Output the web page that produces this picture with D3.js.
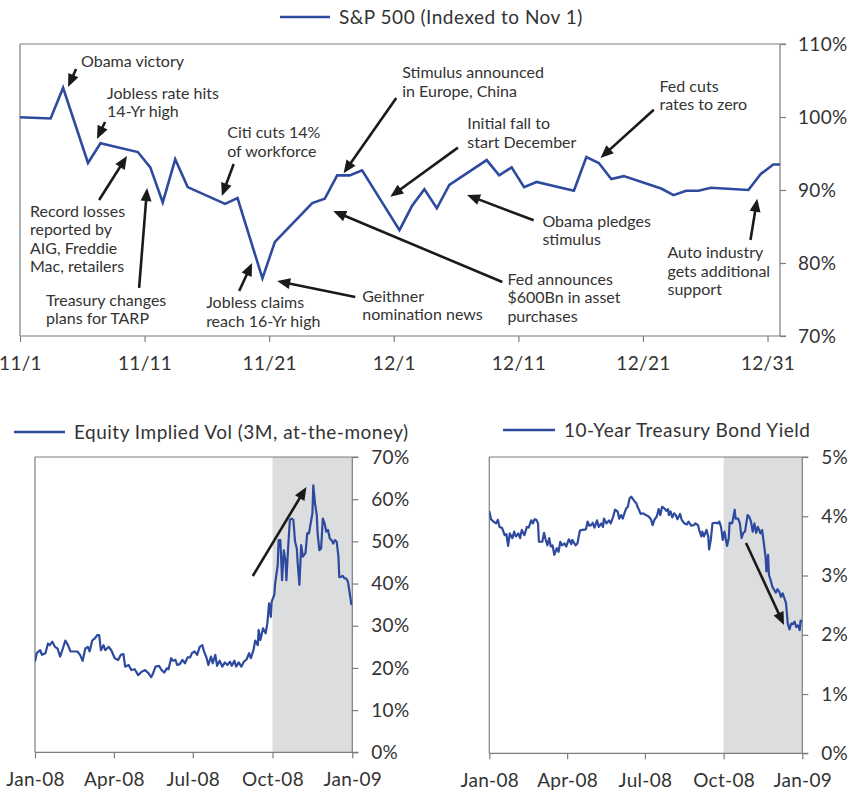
<!DOCTYPE html>
<html><head><meta charset="utf-8">
<script src="https://cdn.jsdelivr.net/npm/d3@7"></script>
<style>
body{margin:0;background:#fff}
svg{display:block}
text{font-family:Lato,"Open Sans",sans-serif;fill:#333}
</style>
</head><body>
<svg id="chart" width="852" height="790"></svg>
<script>
// ---------------- DATA ----------------
const spxTitle = "S&P 500 (Indexed to Nov 1)";
const spxDates = ["2008-10-31","2008-11-03","2008-11-04","2008-11-06","2008-11-07","2008-11-10","2008-11-11","2008-11-12","2008-11-13","2008-11-14","2008-11-17","2008-11-18","2008-11-20","2008-11-21","2008-11-24","2008-11-25","2008-11-26","2008-11-27","2008-11-28","2008-12-01","2008-12-02","2008-12-03","2008-12-04","2008-12-05","2008-12-08","2008-12-09","2008-12-10","2008-12-11","2008-12-12","2008-12-15","2008-12-16","2008-12-17","2008-12-18","2008-12-19","2008-12-22","2008-12-23","2008-12-24","2008-12-25","2008-12-26","2008-12-29","2008-12-30","2008-12-31","2009-01-01"];
const spxValues = [100.0,99.8,104.0,93.7,96.4,95.2,93.1,88.3,94.2,90.4,88.1,88.9,77.9,82.9,88.2,88.8,92.0,92.0,92.7,84.5,87.8,90.1,87.5,90.7,94.1,92.0,93.1,90.4,91.1,89.9,94.5,93.7,91.5,91.9,90.2,89.3,89.9,89.9,90.3,90.0,92.2,93.5,93.5];
const spxTickDates = ["2008-11-01","2008-11-11","2008-11-21","2008-12-01","2008-12-11","2008-12-21","2008-12-31"];
const spxYTicks = [70,80,90,100,110];

// annotations: day offset since Nov 1 and index value
const spxNotes = [
  {lines:["Obama victory"], label:[4.90,106.85], tail:[4.50,106.58], tip:[3.86,104.11]},
  {lines:["Jobless rate hits","14-Yr high"], label:[6.99,102.47], tail:[6.83,99.32], tip:[6.18,96.99]},
  {lines:["Record losses","reported by","AIG, Freddie","Mac, retailers"], label:[0.80,86.34], tail:[6.35,88.63], tip:[8.59,94.66]},
  {lines:["Treasury changes","plans for TARP"], label:[2.09,74.11], tail:[9.56,76.58], tip:[10.2,90.27]},
  {lines:["Citi cuts 14%","of workforce"], label:[16.63,97.12], tail:[17.15,93.56], tip:[16.2,89.18]},
  {lines:["Jobless claims","reach 16-Yr high"], label:[14.94,73.79], tail:[17.59,76.16], tip:[18.63,80.0]},
  {lines:["Geithner","nomination news"], label:[27.47,74.70], tail:[26.91,75.34], tip:[20.64,77.53]},
  {lines:["Stimulus announced","in Europe, China"], label:[30.68,105.34], tail:[30.2,102.6], tip:[25.97,92.29]},
  {lines:["Initial fall to","start December"], label:[35.9,98.32], tail:[35.15,95.8], tip:[29.72,89.08]},
  {lines:["Fed announces","$600Bn in asset","purchases"], label:[39.12,76.99], tail:[38.71,77.4], tip:[25.14,87.12]},
  {lines:["Obama pledges","stimulus"], label:[41.93,84.97], tail:[41.23,85.85], tip:[35.88,89.32]},
  {lines:["Fed cuts","rates to zero"], label:[51.33,103.47], tail:[50.87,101.0], tip:[46.59,94.38]},
  {lines:["Auto industry","gets additional","support"], label:[51.97,80.64], tail:[58.63,83.15], tip:[59.17,88.8]}
];

const volTitle = "Equity Implied Vol (3M, at-the-money)";
// [days since 1 Jan 2008, vol %]
const volSeries = [[0,21.5],[2,23.5],[6,24.2],[8,23.1],[12,23.5],[15,25.8],[17,25.4],[20,26.2],[23,25.0],[26,24.6],[29,22.7],[31,23.9],[35,26.5],[38,25.4],[41,23.9],[45,23.9],[49,23.9],[52,23.1],[55,21.7],[58,24.6],[61,25.0],[63,23.9],[66,26.5],[69,27.0],[72,27.8],[74,27.8],[76,24.2],[79,25.4],[81,24.2],[85,25.0],[88,24.2],[92,22.3],[96,21.9],[99,23.1],[102,23.3],[104,20.3],[108,20.7],[111,19.5],[115,19.7],[119,18.3],[123,19.1],[127,19.5],[131,18.7],[134,17.8],[136,18.6],[139,20.3],[143,20.5],[146,19.5],[149,18.9],[152,19.9],[154,19.7],[157,22.3],[159,21.7],[162,21.9],[164,20.7],[167,20.9],[170,21.9],[173,21.1],[176,22.5],[179,22.5],[181,23.5],[184,23.9],[187,23.1],[190,25.0],[193,25.4],[195,23.9],[198,22.3],[200,20.7],[203,22.7],[205,21.1],[208,23.1],[210,20.5],[213,21.7],[216,20.3],[219,21.3],[222,20.7],[225,21.5],[227,20.5],[230,21.7],[232,20.3],[235,21.3],[238,20.3],[241,21.5],[244,22.0],[247,23.5],[249,22.3],[252,24.2],[254,26.5],[257,25.4],[258,29.0],[260,26.6],[263,29.4],[266,28.2],[268,30.6],[270,35.3],[272,32.1],[273,35.7],[276,37.3],[277,40.0],[280,44.4],[281,50.3],[283,50.3],[285,40.8],[287,47.9],[289,45.2],[290,40.8],[292,48.6],[294,55.1],[296,55.4],[298,55.1],[300,49.9],[302,48.3],[303,44.8],[305,39.7],[307,49.1],[309,46.4],[312,47.2],[314,51.9],[316,51.9],[318,54.3],[320,56.6],[321,63.3],[323,59.0],[325,56.2],[326,51.9],[328,47.9],[330,48.3],[332,55.4],[334,54.3],[336,52.3],[338,52.7],[340,50.7],[342,50.3],[344,49.5],[346,50.3],[348,49.9],[350,46.4],[351,41.5],[353,41.6],[355,41.8],[357,41.2],[359,41.2],[361,40.4],[363,37.7],[365,34.9]];
const volYTicks = [0,10,20,30,40,50,60,70];
const volArrow = {tail:[251.2,41.8], tip:[313.1,62.9]};

const ustTitle = "10-Year Treasury Bond Yield";
// [days since 1 Jan 2008, yield %]
const ustSeries = [[0,4.09],[2,3.95],[5,3.91],[8,3.88],[10,3.94],[12,3.82],[15,3.80],[18,3.68],[20,3.70],[22,3.50],[24,3.71],[27,3.63],[29,3.74],[31,3.66],[34,3.71],[36,3.63],[38,3.77],[41,3.68],[44,3.82],[46,3.81],[49,3.93],[51,3.88],[53,3.95],[55,3.94],[57,3.88],[58,3.57],[62,3.57],[64,3.72],[66,3.60],[68,3.51],[70,3.63],[72,3.49],[74,3.51],[76,3.35],[79,3.46],[81,3.40],[83,3.57],[85,3.51],[88,3.54],[90,3.49],[93,3.61],[96,3.53],[97,3.60],[101,3.51],[103,3.54],[106,3.76],[109,3.77],[113,3.78],[115,3.91],[117,3.84],[119,3.85],[121,3.89],[123,3.81],[126,3.93],[128,3.82],[131,3.88],[133,3.82],[134,3.96],[137,3.88],[140,3.93],[142,3.88],[145,4.00],[147,4.11],[150,4.08],[152,3.96],[154,4.02],[156,3.96],[158,4.05],[160,4.13],[162,4.16],[164,4.30],[166,4.33],[168,4.29],[170,4.25],[172,4.22],[173,4.17],[175,4.11],[177,4.04],[180,4.05],[183,4.02],[186,4.00],[189,3.95],[191,3.85],[193,3.94],[196,4.00],[198,4.12],[200,4.02],[202,4.16],[205,4.13],[207,4.09],[209,4.12],[210,4.02],[212,4.08],[214,3.98],[216,4.05],[218,4.02],[220,3.95],[223,4.04],[225,3.94],[228,3.88],[231,3.86],[233,3.91],[236,3.84],[239,3.85],[241,3.88],[244,3.85],[246,3.74],[248,3.66],[249,3.74],[251,3.66],[254,3.77],[256,3.66],[257,3.44],[259,3.60],[261,3.88],[264,3.89],[267,3.88],[269,3.91],[271,3.82],[273,3.60],[275,3.74],[278,3.50],[280,3.63],[281,3.89],[284,3.88],[287,4.11],[288,3.96],[291,3.96],[293,3.88],[295,3.63],[297,3.72],[299,3.74],[302,4.02],[304,3.99],[306,3.91],[308,3.74],[310,3.88],[312,3.72],[314,3.82],[317,3.71],[319,3.77],[320,3.66],[323,3.32],[324,3.07],[326,3.35],[327,3.01],[329,2.92],[331,2.81],[333,2.76],[335,2.71],[337,2.77],[339,2.73],[341,2.64],[343,2.70],[345,2.62],[347,2.53],[349,2.19],[351,2.09],[353,2.19],[355,2.18],[357,2.22],[359,2.13],[361,2.16],[363,2.08],[364,2.24],[366,2.22]];
const ustYTicks = [0,1,2,3,4,5];
const ustArrow = {tail:[300.2,3.55], tip:[344.6,2.165]};

const monthTicks = ["2008-01-01","2008-04-01","2008-07-01","2008-10-01","2009-01-01"];
const shadeRange = ["2008-10-01","2009-01-01"];

// ---------------- STYLE ----------------
const BLUE = "#2e4a9e", AXIS = "#7d7d7d", ARROW = "#1a1a1a", SHADE = "#dcdddf";
const svg = d3.select("#chart");
const parse = d3.utcParse("%Y-%m-%d");

function arrow(g, x1, y1, x2, y2, L, W) {
  const dx = x2 - x1, dy = y2 - y1, len = Math.hypot(dx, dy);
  const ux = dx / len, uy = dy / len, nx = -uy, ny = ux;
  const bx = x2 - ux * L, by = y2 - uy * L;
  g.append("line").attr("x1", x1).attr("y1", y1).attr("x2", bx + ux * 2).attr("y2", by + uy * 2)
    .attr("stroke", ARROW).attr("stroke-width", 2.6);
  g.append("path").attr("d", `M${x2},${y2}L${bx + nx * W},${by + ny * W}L${bx - nx * W},${by - ny * W}Z`)
    .attr("fill", ARROW);
}

function frame(g, x0, x1, y0, y1) {
  const f = g.append("g").attr("stroke", AXIS).attr("stroke-width", 1.2).attr("fill", "none");
  f.append("line").attr("x1", x0).attr("x2", x1 + 6).attr("y1", y0).attr("y2", y0);
  f.append("line").attr("x1", x0).attr("x2", x1 + 6).attr("y1", y1).attr("y2", y1);
  f.append("line").attr("x1", x0).attr("x2", x0).attr("y1", y0).attr("y2", y1);
  f.append("line").attr("x1", x1).attr("x2", x1).attr("y1", y0).attr("y2", y1);
}

function styleAxis(a, fs) {
  a.select(".domain").remove();
  a.selectAll(".tick line").attr("stroke", AXIS).attr("stroke-width", 1.2);
  a.selectAll(".tick text").attr("fill", "#333").style("font-size", fs + "px")
    .style("font-family", "Lato").style("letter-spacing", "0.3px");
}

function legend(x, y, w, text, fs) {
  svg.append("line").attr("x1", x).attr("x2", x + w).attr("y1", y).attr("y2", y)
    .attr("stroke", BLUE).attr("stroke-width", 2.6);
  svg.append("text").attr("x", x + w + 9).attr("y", y + 7).style("font-size", fs + "px")
    .style("letter-spacing", "0.5px").text(text);
}

// ---------------- TOP: S&P 500 ----------------
{
  const X0 = 20, X1 = 780, Y0 = 44, Y1 = 336;
  const nov1 = parse("2008-11-01");
  const x = d3.scaleUtc().domain([nov1, parse("2009-01-01")]).range([X0, X1]);
  const y = d3.scaleLinear().domain([70, 110]).range([Y1, Y0]);
  const dayX = d => x(new Date(nov1.getTime() + d * 864e5));
  const g = svg.append("g");
  svg.append("clipPath").attr("id", "clipTop").append("rect")
    .attr("x", X0).attr("y", Y0 - 5).attr("width", X1 - X0).attr("height", Y1 - Y0 + 10);

  frame(g, X0, X1, Y0, Y1);
  const data = spxDates.map((s, i) => ({ t: d3.utcHour.offset(parse(s), 11), v: spxValues[i] }));
  g.append("path").datum(data).attr("clip-path", "url(#clipTop)")
    .attr("d", d3.line().x(d => x(d.t)).y(d => y(d.v)))
    .attr("fill", "none").attr("stroke", BLUE).attr("stroke-width", 2.6).attr("stroke-linejoin", "miter");

  const ay = g.append("g").attr("transform", `translate(${X1},0)`)
    .call(d3.axisRight(y).tickValues(spxYTicks).tickSize(6).tickPadding(12).tickFormat(d => d + "%"));
  styleAxis(ay, 19);
  const ax = g.append("g").attr("transform", `translate(0,${Y1})`)
    .call(d3.axisBottom(x).tickValues(spxTickDates.map(parse)).tickSize(6).tickPadding(15).tickFormat(d3.utcFormat("%-m/%-d")));
  styleAxis(ax, 19);

  spxNotes.forEach(n => {
    arrow(g, dayX(n.tail[0]), y(n.tail[1]), dayX(n.tip[0]), y(n.tip[1]), 13, 5.5);
    const t = g.append("text").attr("x", dayX(n.label[0])).attr("y", y(n.label[1]))
      .style("font-size", "16px").attr("fill", "#3a3a3a");
    n.lines.forEach((l, i) => t.append("tspan").attr("x", dayX(n.label[0])).attr("dy", i ? 18.5 : 0).text(l));
  });
  legend(280, 17, 50, spxTitle, 19);
}

// ---------------- BOTTOM PANELS ----------------
function panel(X0, X1, Y0, Y1, series, yMax, yTicks, arr, clipId) {
  const jan1 = parse("2008-01-01");
  const x = d3.scaleUtc().domain([jan1, parse("2009-01-01")]).range([X0, X1]);
  const y = d3.scaleLinear().domain([0, yMax]).range([Y1, Y0]);
  const dX = d => x(new Date(jan1.getTime() + d * 864e5));
  const g = svg.append("g");
  g.append("rect").attr("x", x(parse(shadeRange[0]))).attr("y", Y0)
    .attr("width", x(parse(shadeRange[1])) - x(parse(shadeRange[0]))).attr("height", Y1 - Y0)
    .attr("fill", SHADE);
  frame(g, X0, X1, Y0, Y1);
  svg.append("clipPath").attr("id", clipId).append("rect")
    .attr("x", X0).attr("y", Y0 - 5).attr("width", X1 - X0).attr("height", Y1 - Y0 + 10);
  g.append("path").datum(series).attr("clip-path", `url(#${clipId})`)
    .attr("d", d3.line().x(d => dX(d[0])).y(d => y(d[1])))
    .attr("fill", "none").attr("stroke", BLUE).attr("stroke-width", 2.2).attr("stroke-linejoin", "round");
  arrow(g, dX(arr.tail[0]), y(arr.tail[1]), dX(arr.tip[0]), y(arr.tip[1]), 13, 5.5);
  const ay = g.append("g").attr("transform", `translate(${X1},0)`)
    .call(d3.axisRight(y).tickValues(yTicks).tickSize(6).tickPadding(13).tickFormat(d => d + "%"));
  styleAxis(ay, 19);
  const ax = g.append("g").attr("transform", `translate(0,${Y1})`)
    .call(d3.axisBottom(x).tickValues(monthTicks.map(parse)).tickSize(6).tickPadding(14).tickFormat(d3.utcFormat("%b-%y")));
  styleAxis(ax, 19);
}

panel(35, 352.3, 457, 752.3, volSeries, 70, volYTicks, volArrow, "clipVol");
legend(14, 432, 51, volTitle, 19);
panel(489.3, 802.3, 457, 753.3, ustSeries, 5, ustYTicks, ustArrow, "clipUst");
legend(503, 430, 52, ustTitle, 19);
</script>
</body></html>
